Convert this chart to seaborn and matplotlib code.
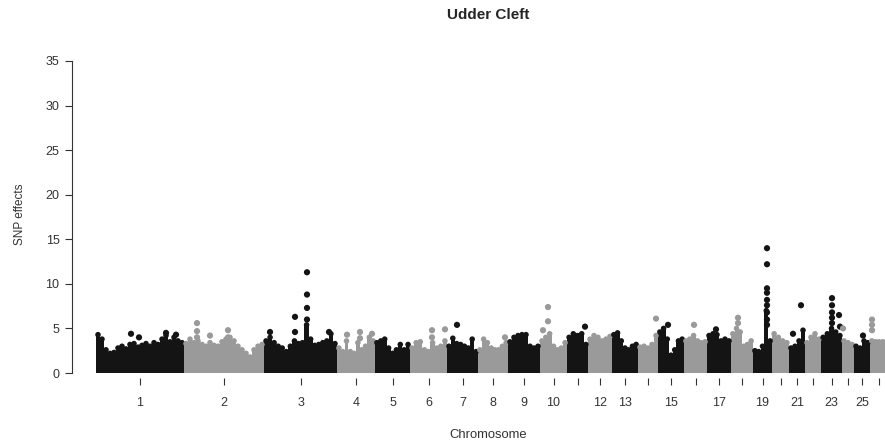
import numpy as np
import pandas as pd
import matplotlib
matplotlib.use('Agg')
import matplotlib.pyplot as plt
import seaborn as sns

# Chromosomes and their SNP counts (x axis = cumulative SNP index)
chromosomes = list(range(1, 27))
chrom_snps = [8800, 8000, 7300, 3800, 3500, 3700, 3100, 3000, 3200, 2700,
              2100, 2400, 2600, 2000, 2600, 2300, 2400, 2200, 1900, 1700,
              1600, 1600, 2100, 1200, 1600, 1800]
shown_labels = [1, 2, 3, 4, 5, 6, 7, 8, 9, 10, 12, 13, 15, 17, 19, 21, 23, 25]

# Upper edge of the dense SNP cloud, read left to right along each chromosome
top_chr1 = [4.3, 3.8, 2.6, 2.2, 2.3, 2.8, 3.0, 2.7, 3.2, 3.3, 2.9, 3.1, 3.3, 3.0, 3.4, 3.2, 3.8, 4.2, 3.5, 4.0, 3.6, 3.4]
top_chr2 = [3.3, 3.8, 3.4, 3.6, 3.2, 3.0, 3.4, 3.1, 3.0, 3.5, 3.8, 4.0, 3.6, 3.0, 2.6, 2.2, 1.8, 2.6, 3.0, 3.2]
top_chr3 = [3.6, 4.0, 3.4, 3.0, 2.8, 2.4, 3.0, 3.6, 3.3, 3.4, 5.4, 3.8, 3.1, 3.2, 3.4, 3.6, 4.4, 3.3]
top_chr4 = [2.8, 2.4, 3.6, 2.4, 2.2, 3.4, 2.6, 3.0, 4.0, 3.6]
top_chr5 = [3.4, 3.6, 3.8, 2.8, 2.2, 2.6, 3.2, 2.6, 3.2]
top_chr6 = [2.8, 3.4, 3.5, 2.6, 2.4, 3.4, 2.8, 3.0, 3.6]
top_chr7 = [3.0, 3.9, 3.3, 3.2, 3.0, 2.8, 3.8, 2.4]
top_chr8 = [2.6, 3.8, 3.4, 2.8, 2.6, 2.6, 3.0, 3.4]
top_chr9 = [3.5, 4.0, 4.2, 4.3, 4.3, 3.0, 2.8, 3.0]
top_chr10 = [3.6, 4.0, 4.4, 3.0, 2.6, 2.8, 3.4]
top_chr11 = [4.0, 4.4, 4.2, 4.4, 3.2]
top_chr12 = [3.8, 4.2, 4.0, 3.6, 3.8, 4.1]
top_chr13 = [4.3, 4.5, 3.6, 2.8, 2.6, 3.0, 3.2]
top_chr14 = [2.9, 3.0, 2.8, 3.2, 4.2]
top_chr15 = [4.6, 5.0, 3.8, 2.0, 2.6, 3.6, 3.8]
top_chr16 = [3.6, 3.8, 4.2, 3.6, 3.4, 3.5]
top_chr17 = [4.2, 4.4, 4.3, 3.6, 3.8, 3.6]
top_chr18 = [4.4, 5.0, 4.6, 3.0, 3.2, 3.6]
top_chr19 = [2.5, 2.4, 3.0, 7.0, 3.6]
top_chr20 = [4.4, 4.0, 3.6, 3.4]
top_chr21 = [2.8, 3.0, 3.6, 4.8]
top_chr22 = [3.4, 4.0, 4.4, 3.8]
top_chr23 = [4.0, 4.4, 5.0, 4.6, 4.2]
top_chr24 = [3.6, 3.4, 3.2]
top_chr25 = [3.0, 2.8, 3.6, 3.4]
top_chr26 = [3.6, 3.5, 3.5, 3.5, 3.5]

# Isolated SNPs above the cloud: chromosome, position within chromosome, effect
hit_chrom = [1, 1, 1, 1,
             2, 2, 2, 2, 2, 2,
             3, 3, 3, 3, 3, 3, 3, 3,
             4, 4, 4, 4,
             6, 6, 6, 7, 8, 10, 10, 10, 11, 14, 15, 16, 17, 18, 18,
             19, 19, 19, 19, 19, 19, 19, 19, 19,
             21, 21,
             23, 23, 23, 23, 23, 23, 23,
             24, 25, 26, 26, 26]
hit_pos = [3500, 4300, 7000, 8000,
           1300, 1300, 1300, 2600, 4400, 4400,
           600, 3100, 3100, 4300, 4300, 4300, 4300, 6500,
           1000, 2300, 2300, 3500,
           2200, 2200, 3500, 1000, 2700, 800, 800, 300, 1800, 1800, 1000, 1000, 900, 700, 700,
           1400, 1400, 1400, 1400, 1400, 1400, 1400, 1400, 1400,
           400, 1200,
           1100, 1100, 1100, 1100, 1100, 1800, 1900,
           100, 900, 200, 200, 200]
hit_value = [4.4, 4.0, 4.5, 4.3,
             5.6, 4.7, 4.0, 4.2, 4.8, 4.0,
             4.6, 4.6, 6.3, 11.3, 8.8, 7.3, 6.0, 4.6,
             4.3, 4.6, 3.9, 4.4,
             4.8, 4.0, 4.9, 5.4, 4.0, 7.4, 5.8, 4.8, 5.2, 6.1, 5.4, 5.4, 4.9, 6.2, 5.6,
             14.0, 12.2, 9.5, 9.0, 8.2, 7.6, 6.8, 6.0, 5.4,
             4.4, 7.6,
             8.4, 7.6, 6.8, 6.2, 5.6, 6.5, 5.2,
             5.0, 4.2, 6.0, 5.4, 4.8]

bulk_top = [top_chr1, top_chr2, top_chr3, top_chr4, top_chr5, top_chr6, top_chr7,
            top_chr8, top_chr9, top_chr10, top_chr11, top_chr12, top_chr13,
            top_chr14, top_chr15, top_chr16, top_chr17, top_chr18, top_chr19,
            top_chr20, top_chr21, top_chr22, top_chr23, top_chr24, top_chr25, top_chr26]

starts = np.concatenate([[0], np.cumsum(chrom_snps)[:-1]])
mids = starts + np.array(chrom_snps) / 2

rows = []
for c, start, size, tops in zip(chromosomes, starts, chrom_snps, bulk_top):
    w = size / len(tops)
    for j, v in enumerate(tops):
        rows.append({'chrom': c, 'x': start + (j + 0.5) * w, 'width': w, 'value': v})
bulk = pd.DataFrame(rows)
bulk['parity'] = bulk['chrom'] % 2

hits = pd.DataFrame({'chrom': hit_chrom, 'pos': hit_pos, 'value': hit_value})
hits['x'] = starts[hits['chrom'] - 1] + hits['pos']
hits['parity'] = hits['chrom'] % 2

palette = {1: '#141414', 0: '#9a9a9a'}

sns.set_style('ticks')
plt.rcParams['font.family'] = ['Liberation Sans', 'DejaVu Sans']

fig = plt.figure(figsize=(8.85, 4.4), dpi=100)
ax = fig.add_axes([72 / 885, 62 / 440, 832 / 885, 328 / 440])

ax.bar(bulk['x'], bulk['value'], width=bulk['width'] * 1.05,
       color=bulk['parity'].map(palette), linewidth=0)
sns.scatterplot(data=bulk, x='x', y='value', hue='parity', palette=palette,
                s=16, linewidth=0, legend=False, ax=ax)
sns.scatterplot(data=hits, x='x', y='value', hue='parity', palette=palette,
                s=20, linewidth=0, legend=False, ax=ax)

ax.set_xlim(-2400, 80800)
ax.set_ylim(-0.56, 36.23)
ax.set_yticks(range(0, 36, 5))
ax.set_xticks(mids)
ax.set_xticklabels([str(c) if c in shown_labels else '' for c in chromosomes])

for s in ['top', 'right', 'bottom']:
    ax.spines[s].set_visible(False)
ax.spines['left'].set_bounds(0, 35)
ax.spines['left'].set_color('#333333')
ax.spines['left'].set_linewidth(0.8)

ax.tick_params(axis='y', length=5, width=0.8, pad=4, labelsize=9, colors='#333333')
ax.tick_params(axis='x', length=5, width=0.8, pad=9, labelsize=9, colors='#333333')

ax.set_xlabel('Chromosome', fontsize=9.4, color='#333333', labelpad=14)
ax.set_ylabel('SNP effects', fontsize=8.5, color='#333333', labelpad=14)
ax.set_title('Udder Cleft', fontsize=11, fontweight='bold', pad=22)

fig.savefig('out.png', dpi=100)
